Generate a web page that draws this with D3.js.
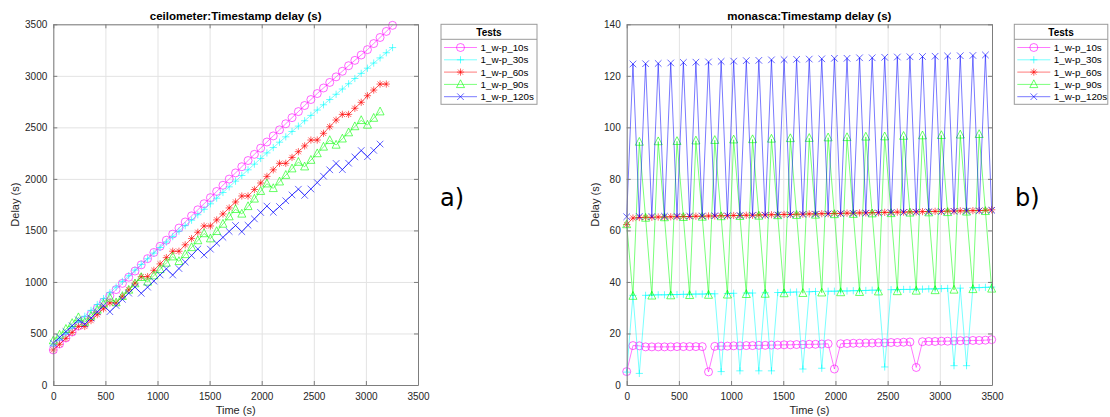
<!DOCTYPE html>
<html>
<head>
<meta charset="utf-8">
<script src="https://cdn.jsdelivr.net/npm/d3@7"></script>
<style>
  body { margin: 0; background: #fff; }
  svg { display: block; font-family: "Liberation Sans", Arial, Helvetica, sans-serif; }
  .grid line { stroke: #e3e3e3; }
  .grid path { display: none; }
  .axis path, .axis line { stroke: #7d7d7d; }
  .axis text { fill: #262626; font-size: 10px; }
</style>
</head>
<body>
<svg id="chart" width="1110" height="417"></svg>
<script>
// sample times (s), one sample about every 60 s
const times = [0, 60, 121, 181, 241, 302, 362, 422, 482, 543,
  603, 663, 724, 784, 844, 905, 965, 1025, 1085, 1146,
  1206, 1266, 1327, 1387, 1447, 1508, 1568, 1628, 1688, 1749,
  1809, 1869, 1930, 1990, 2050, 2111, 2171, 2231, 2291, 2352,
  2412, 2472, 2533, 2593, 2653, 2714, 2774, 2834, 2894, 2955,
  3015, 3075, 3136, 3196, 3256, 3317, 3377, 3437, 3497];

const testNames = ['1_w-p_10s', '1_w-p_30s', '1_w-p_60s', '1_w-p_90s', '1_w-p_120s'];
const testColors = ['#ff00ff', '#00ffff', '#ff0000', '#00ff00', '#0000ff'];
const testMarkers = ['circle', 'plus', 'star', 'triangle', 'cross'];

const xTicks = [0, 500, 1000, 1500, 2000, 2500, 3000, 3500];
const ceiloTicks = [0, 500, 1000, 1500, 2000, 2500, 3000, 3500];
const monaTicks = [0, 20, 40, 60, 80, 100, 120, 140];

// ceilometer delays
const ceilo10 = [340, 398, 456, 514, 572, 630, 688, 746, 804, 866,
  926, 986, 1046, 1106, 1166, 1226, 1286, 1346, 1405, 1464,
  1523, 1582, 1641, 1700, 1759, 1818, 1878, 1938, 1998, 2058,
  2118, 2178, 2238, 2298, 2358, 2417, 2476, 2535, 2594, 2653,
  2712, 2770, 2828, 2882, 2936, 2990, 3044, 3098, 3150, 3202,
  3254, 3313, 3372, 3431, 3490];
const ceilo30 = [380, 438, 496, 553, 610, 667, 724, 781, 838, 895,
  950, 1005, 1060, 1115, 1170, 1225, 1280, 1334, 1387, 1440,
  1493, 1546, 1599, 1652, 1705, 1758, 1813, 1868, 1923, 1978,
  2033, 2088, 2143, 2198, 2252, 2304, 2356, 2408, 2460, 2512,
  2564, 2616, 2668, 2719, 2770, 2821, 2872, 2923, 2974, 3024,
  3074, 3124, 3174, 3224, 3274];
const ceilo60 = [340, 395, 452, 510, 568, 568, 625, 683, 740, 797,
  797, 860, 924, 988, 1051, 1051, 1113, 1175, 1236, 1298,
  1298, 1360, 1421, 1482, 1543, 1543, 1602, 1660, 1718, 1776,
  1834, 1834, 1897, 1960, 2024, 2088, 2151, 2151, 2208, 2264,
  2320, 2377, 2377, 2442, 2506, 2571, 2626, 2626, 2685, 2743,
  2807, 2862, 2920, 2920];
const ceilo90 = [430, 486, 542, 599, 655, 610, 669, 728, 786, 845,
  800, 861, 922, 984, 1045, 1000, 1061, 1122, 1184, 1245,
  1200, 1267, 1335, 1402, 1470, 1420, 1491, 1562, 1634, 1705,
  1660, 1733, 1806, 1880, 1953, 1908, 1972, 2036, 2099, 2163,
  2118, 2182, 2246, 2310, 2374, 2329, 2389, 2449, 2508, 2568,
  2523, 2590, 2652];
const ceilo120 = [407, 462, 518, 575, 632, 590, 650, 710, 770, 711,
  771, 831, 891, 950, 890, 949, 1008, 1068, 1127, 1067,
  1130, 1193, 1257, 1320, 1261, 1318, 1376, 1433, 1490, 1548,
  1488, 1550, 1612, 1674, 1736, 1676, 1732, 1788, 1844, 1900,
  1840, 1902, 1964, 2026, 2088, 2150, 2090, 2152, 2213, 2275,
  2215, 2277, 2338];

// monasca delays
const mona10 = [5.2, 15.3, 15.2, 14.8, 14.8, 14.8, 14.8, 14.8, 14.9, 14.9,
  14.9, 14.9, 14.9, 5.1, 15.0, 15.1, 15.1, 15.2, 15.2, 15.3,
  15.3, 15.4, 15.4, 15.5, 15.5, 15.6, 15.6, 15.7, 15.7, 15.8,
  15.8, 15.9, 16.0, 6.2, 16.0, 16.1, 16.2, 16.2, 16.3, 16.3,
  16.4, 16.4, 16.5, 16.5, 16.6, 16.7, 6.8, 16.8, 16.9, 16.9,
  17.0, 17.0, 17.1, 17.2, 17.2, 17.3, 17.3, 17.4, 17.6];
const mona30 = [5.0, 34.8, 4.5, 34.8, 34.9, 35.0, 35.0, 35.1, 35.1, 35.2,
  35.2, 35.3, 35.3, 35.4, 35.4, 5.2, 35.5, 35.6, 5.5, 35.7,
  35.7, 5.5, 35.8, 5.5, 35.9, 35.9, 36.0, 36.1, 6.2, 36.2,
  36.3, 6.5, 36.4, 36.4, 36.5, 36.5, 36.6, 36.6, 36.7, 36.8,
  36.8, 7.0, 37.0, 37.0, 37.1, 37.1, 37.2, 37.2, 37.3, 37.3,
  37.4, 37.5, 7.5, 37.6, 7.5, 37.8, 37.8, 37.9, 38.0];
const mona60 = [62.3, 64.8, 65.0, 65.1, 65.1, 65.2, 65.2, 65.3, 65.3, 65.4,
  65.4, 65.5, 65.5, 65.6, 65.6, 65.7, 65.7, 65.8, 65.8, 65.9,
  65.9, 66.0, 66.0, 66.1, 66.1, 66.2, 66.2, 66.3, 66.3, 66.4,
  66.4, 66.5, 66.5, 66.6, 66.6, 66.7, 66.7, 66.8, 66.8, 66.9,
  66.9, 67.0, 67.0, 67.1, 67.1, 67.2, 67.2, 67.3, 67.3, 67.4,
  67.4, 67.5, 67.5, 67.6, 67.6, 67.7, 67.7, 67.8, 68.0];
const mona90 = [62.3, 34.5, 94.3, 64.8, 34.6, 94.5, 65.0, 34.7, 94.6, 65.1,
  34.8, 94.8, 65.2, 34.9, 95.0, 65.4, 35.0, 95.2, 65.5, 35.2,
  95.3, 65.6, 35.3, 95.5, 65.8, 35.5, 95.7, 65.9, 35.6, 95.8,
  66.0, 35.8, 96.0, 66.2, 35.9, 96.1, 66.3, 36.0, 96.3, 66.5,
  36.2, 96.4, 66.6, 36.3, 96.6, 66.8, 36.5, 96.8, 66.9, 36.7,
  96.9, 67.0, 36.9, 97.1, 67.2, 37.1, 97.3, 67.4, 37.3];
const mona120 = [65.3, 124.6, 65.4, 124.7, 65.4, 124.8, 65.5, 125.0, 65.5, 125.2,
  65.6, 125.3, 65.6, 125.4, 65.7, 125.6, 65.7, 125.7, 65.8, 125.9,
  65.9, 126.0, 65.9, 126.2, 66.0, 126.3, 66.1, 126.4, 66.2, 126.5,
  66.3, 126.6, 66.4, 126.8, 66.5, 126.8, 66.6, 127.0, 66.7, 127.0,
  66.8, 127.2, 66.9, 127.3, 67.0, 127.4, 67.1, 127.5, 67.2, 127.6,
  67.3, 127.7, 67.4, 127.8, 67.5, 127.9, 67.6, 128.1, 67.8];

const svg = d3.select('#chart');

const markerPath = (type, s) => {
  if (type === 'plus') return `M${-s},0H${s}M0,${-s}V${s}`;
  if (type === 'cross') return `M${-s},${-s}L${s},${s}M${-s},${s}L${s},${-s}`;
  if (type === 'star') {
    const k = s * 0.72;
    return `M${-s},0H${s}M0,${-s}V${s}M${-k},${-k}L${k},${k}M${-k},${k}L${k},${-k}`;
  }
  if (type === 'triangle') return `M0,${-s * 1.15}L${s},${s * 0.8}L${-s},${s * 0.8}Z`;
  return d3.symbol(d3.symbolCircle, Math.PI * s * s)();
};
const markerSize = { circle: 4, plus: 3.6, star: 3.6, triangle: 4, cross: 3.3 };

const drawMarker = (g, type, color, x, y) => {
  g.append('path')
    .attr('d', markerPath(type, markerSize[type]))
    .attr('transform', `translate(${x},${y})`)
    .attr('fill', 'none')
    .attr('stroke', color)
    .attr('stroke-opacity', 0.8)
    .attr('stroke-width', 0.75);
};

const drawPanel = (conf) => {
  const g = svg.append('g');
  const w = conf.right - conf.left, h = conf.bottom - conf.top;
  const x = d3.scaleLinear().domain([0, 3500]).range([conf.left, conf.right]);
  const y = d3.scaleLinear().domain([0, conf.yMax]).range([conf.bottom, conf.top]);
  const fmt = d3.format('d');

  // grid
  g.append('g').attr('class', 'grid')
    .attr('transform', `translate(0,${conf.bottom})`)
    .call(d3.axisBottom(x).tickValues(xTicks).tickSize(-h).tickFormat(''));
  g.append('g').attr('class', 'grid')
    .attr('transform', `translate(${conf.left},0)`)
    .call(d3.axisLeft(y).tickValues(conf.yTicks).tickSize(-w).tickFormat(''));

  // series
  const line = d3.line().x(d => x(d.t)).y(d => y(d.v));
  conf.series.forEach((vals, si) => {
    const pts = vals.map((v, i) => ({ t: times[i], v: v }));
    const sg = g.append('g');
    sg.append('path').datum(pts)
      .attr('d', line)
      .attr('fill', 'none')
      .attr('stroke', testColors[si])
      .attr('stroke-opacity', 0.75)
      .attr('stroke-width', 0.7);
    pts.forEach(p => drawMarker(sg, testMarkers[si], testColors[si], x(p.t), y(p.v)));
  });

  // box axes, ticks pointing inward
  const bottom = g.append('g').attr('class', 'axis')
    .attr('transform', `translate(0,${conf.bottom})`)
    .call(d3.axisBottom(x).tickValues(xTicks).tickFormat(fmt).tickSizeInner(-4).tickSizeOuter(0).tickPadding(8));
  const left = g.append('g').attr('class', 'axis')
    .attr('transform', `translate(${conf.left},0)`)
    .call(d3.axisLeft(y).tickValues(conf.yTicks).tickFormat(fmt).tickSizeInner(-4).tickSizeOuter(0).tickPadding(6));
  g.append('g').attr('class', 'axis')
    .attr('transform', `translate(0,${conf.top})`)
    .call(d3.axisTop(x).tickValues(xTicks).tickSizeInner(-4).tickSizeOuter(0).tickFormat(''));
  g.append('g').attr('class', 'axis')
    .attr('transform', `translate(${conf.right},0)`)
    .call(d3.axisRight(y).tickValues(conf.yTicks).tickSizeInner(-4).tickSizeOuter(0).tickFormat(''));
  bottom.selectAll('text').attr('font-family', null).attr('font-size', null);
  left.selectAll('text').attr('font-family', null).attr('font-size', null);

  // title and labels
  g.append('text').text(conf.title)
    .attr('x', (conf.left + conf.right) / 2).attr('y', conf.top - 4.5)
    .attr('text-anchor', 'middle')
    .attr('font-size', 11.5).attr('font-weight', 'bold').attr('fill', '#000');
  g.append('text').text('Time (s)')
    .attr('x', (conf.left + conf.right) / 2).attr('y', 414)
    .attr('text-anchor', 'middle')
    .attr('font-size', 11).attr('fill', '#262626');
  g.append('text').text('Delay (s)')
    .attr('transform', `translate(${conf.ylabelX},${(conf.top + conf.bottom) / 2}) rotate(-90)`)
    .attr('text-anchor', 'middle')
    .attr('font-size', 11).attr('fill', '#262626');
  g.append('text').text(conf.tag)
    .attr('x', conf.tagX).attr('y', 206)
    .attr('font-family', '"DejaVu Sans", Verdana, sans-serif')
    .attr('font-size', 24).attr('fill', '#000');

  // legend
  const lg = g.append('g');
  const lx = conf.legendX, ly = 24.3, lw = conf.legendW, lh = 80;
  lg.append('rect')
    .attr('x', lx).attr('y', ly).attr('width', lw).attr('height', lh)
    .attr('fill', '#fff').attr('stroke', '#9a9a9a').attr('stroke-width', 1);
  lg.append('line')
    .attr('x1', lx).attr('x2', lx + lw).attr('y1', ly + 15).attr('y2', ly + 15)
    .attr('stroke', '#9a9a9a').attr('stroke-width', 1);
  lg.append('text').text('Tests')
    .attr('x', lx + lw / 2).attr('y', ly + 11.5)
    .attr('text-anchor', 'middle')
    .attr('font-size', 10).attr('font-weight', 'bold').attr('fill', '#000');
  testNames.forEach((name, i) => {
    const yy = ly + 23.2 + i * 12.3;
    lg.append('line')
      .attr('x1', lx + 3).attr('x2', lx + 36).attr('y1', yy).attr('y2', yy)
      .attr('stroke', testColors[i]).attr('stroke-opacity', 0.75).attr('stroke-width', 0.7);
    drawMarker(lg, testMarkers[i], testColors[i], lx + 19.5, yy);
    lg.append('text').text(name)
      .attr('x', lx + 39.5).attr('y', yy + 3.5)
      .attr('font-size', 9.8).attr('fill', '#000');
  });
};

drawPanel({
  left: 53.3, right: 418, top: 24.3, bottom: 385,
  yMax: 3500, yTicks: ceiloTicks,
  title: 'ceilometer:Timestamp delay (s)',
  series: [ceilo10, ceilo30, ceilo60, ceilo90, ceilo120],
  legendX: 441, legendW: 96, tag: 'a)', tagX: 440, ylabelX: 19
});
drawPanel({
  left: 626.7, right: 992, top: 24.3, bottom: 385,
  yMax: 140, yTicks: monaTicks,
  title: 'monasca:Timestamp delay (s)',
  series: [mona10, mona30, mona60, mona90, mona120],
  legendX: 1014.3, legendW: 93.5, tag: 'b)', tagX: 1015, ylabelX: 599
});
</script>
</body>
</html>
